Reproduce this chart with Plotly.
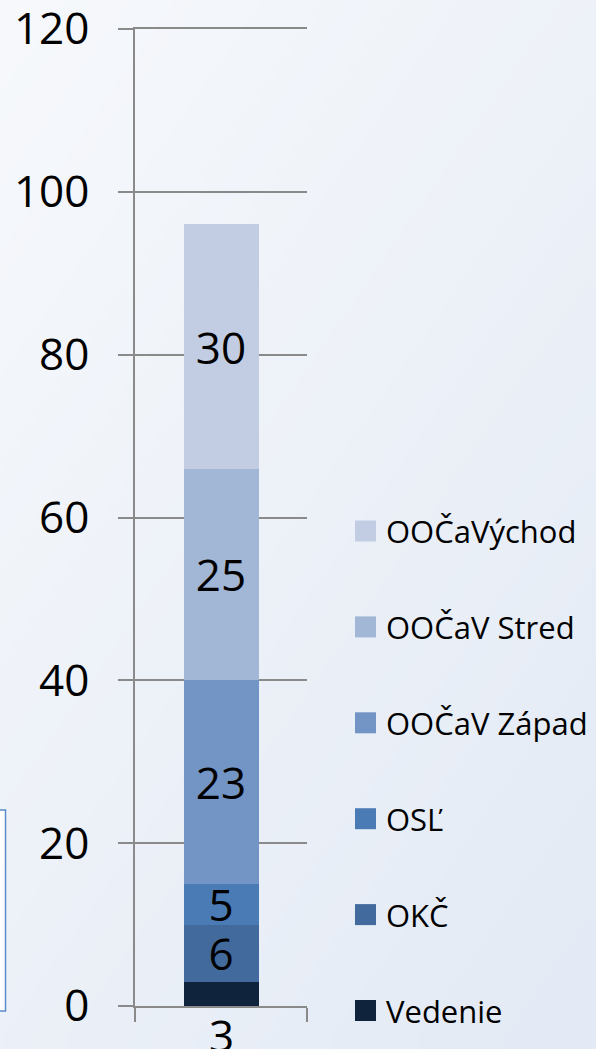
import zlib, struct, base64
import numpy as np
import plotly.graph_objects as go

# ---------------- data ----------------
category = ["3"]
series = ["Vedenie", "OKČ", "OSĽ", "OOČaV Západ", "OOČaV Stred", "OOČaVýchod"]
values = [3, 7, 5, 25, 26, 30]               # segment heights
labels = ["3", "6", "5", "23", "25", "30"]    # data labels printed on the chart
colors = ["#10233d", "#436a9c", "#4b7bb5", "#7395c6", "#a2b6d6", "#c2cde3"]
y_ticks = [0, 20, 40, 60, 80, 100, 120]

# ---------------- geometry ----------------
W, H = 596, 1049
ML, MR, MT, MB = 135, 289, 29, 43
PW, PH = W - ML - MR, H - MT - MB


def px_to_paper_x(px):
    return (px - ML) / PW


def px_to_paper_y(py):
    return (H - MB - py) / PH


# ---------------- background gradient image ----------------
def png_data_uri(arr):
    h, w, _ = arr.shape
    raw = b"".join(b"\x00" + arr[r].tobytes() for r in range(h))

    def chunk(t, d):
        c = struct.pack(">I", len(d)) + t + d
        return c + struct.pack(">I", zlib.crc32(t + d) & 0xFFFFFFFF)

    png = (b"\x89PNG\r\n\x1a\n"
           + chunk(b"IHDR", struct.pack(">IIBBBBB", w, h, 8, 2, 0, 0, 0))
           + chunk(b"IDAT", zlib.compress(raw, 9))
           + chunk(b"IEND", b""))
    return "data:image/png;base64," + base64.b64encode(png).decode()


gh, gw = 131, 75
yy, xx = np.mgrid[0:gh, 0:gw]
t = (xx / (gw - 1) * 0.45 + yy / (gh - 1) * 0.55)
c0 = np.array([247, 249, 252], dtype=float)
c1 = np.array([227, 234, 245], dtype=float)
grad = (c0[None, None, :] * (1 - t[..., None]) + c1[None, None, :] * t[..., None]).astype(np.uint8)
bg_uri = png_data_uri(grad)

# ---------------- figure ----------------
FS = 44
fig = go.Figure()
for name, v, lab, col in zip(series, values, labels, colors):
    fig.add_trace(go.Bar(
        x=category, y=[v], name=name,
        marker=dict(color=col, line=dict(width=0)),
        text=[lab if name != series[0] else ""],
        textposition="inside", insidetextanchor="middle", textangle=0,
        textfont=dict(family="Open Sans", size=FS, color="black"),
        width=0.436, showlegend=False, hoverinfo="name+y",
    ))

grey = "#8a8a8a"
fig.update_layout(
    width=W, height=H,
    margin=dict(l=ML, r=MR, t=MT, b=MB, pad=0, autoexpand=False),
    barmode="stack",
    paper_bgcolor="#eef2f8",
    plot_bgcolor="rgba(0,0,0,0)",
    uniformtext=dict(minsize=FS, mode="show"),
    font=dict(family="Open Sans", color="black"),
    xaxis=dict(
        type="category", automargin=False,
        range=[-0.5, 0.5], showticklabels=False, tickson="boundaries",
        ticks="outside", ticklen=14, tickwidth=1.5, tickcolor=grey,
        showline=True, mirror=True, linecolor=grey, linewidth=1.5,
        showgrid=False, zeroline=False,
    ),
    yaxis=dict(
        automargin=False,
        range=[0, 120], tickvals=y_ticks, ticks="outside", ticklen=15,
        tickwidth=1.5, tickcolor=grey, showline=True, linecolor=grey, linewidth=1.5,
        showgrid=True, gridcolor=grey, gridwidth=1.5, zeroline=False,
        tickfont=dict(family="Open Sans", size=FS, color="black"),
        ticklabelstandoff=20, ticklabeloverflow="allow",
    ),
    images=[dict(source=bg_uri, xref="paper", yref="paper",
                 x=-ML / PW, y=1 + MT / PH, sizex=W / PW, sizey=H / PH,
                 xanchor="left", yanchor="top", sizing="stretch", layer="below")],
)

# label of the bottom segment, printed below the axis
fig.add_annotation(x=0, xref="x", y=0, yref="y", text=labels[0], showarrow=False,
                   yanchor="middle", yshift=-29,
                   font=dict(family="Open Sans", size=FS, color="black"))

# manual legend (bottom item = first series)
shapes = []
for i, (name, col) in enumerate(zip(series, colors)):
    cy = 1010.5 - 95.9 * i
    shapes.append(dict(type="rect", xref="paper", yref="paper",
                       x0=px_to_paper_x(355), x1=px_to_paper_x(376),
                       y0=px_to_paper_y(cy + 10.5), y1=px_to_paper_y(cy - 10.5),
                       fillcolor=col, line=dict(width=0)))
    fig.add_annotation(xref="paper", yref="paper", x=px_to_paper_x(384), y=px_to_paper_y(cy),
                       text=name, showarrow=False, xanchor="left", yanchor="middle",
                       font=dict(family="Open Sans", size=31, color="black"))

# partially visible box at the left edge
shapes.append(dict(type="rect", xref="paper", yref="paper",
                   x0=px_to_paper_x(-12), x1=px_to_paper_x(5.5),
                   y0=px_to_paper_y(1011), y1=px_to_paper_y(810),
                   fillcolor="white", line=dict(color="#5b8bcb", width=1.5), layer="below"))
fig.update_layout(shapes=shapes)

fig.write_html("out.html", config={"displayModeBar": False},
               post_script="document.body.style.margin='0';document.body.style.overflow='hidden';")
